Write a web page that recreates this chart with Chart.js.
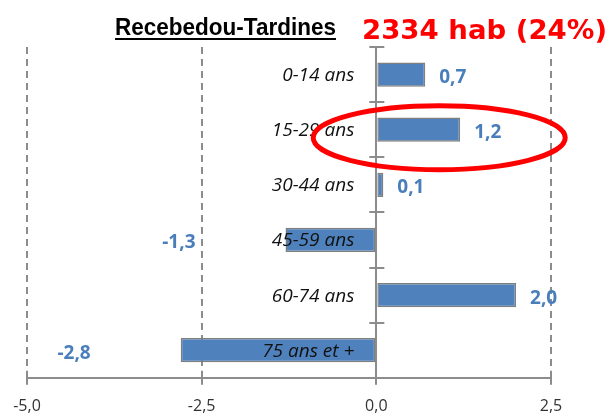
<!DOCTYPE html>
<html>
<head>
<meta charset="utf-8">
<script src="https://cdn.jsdelivr.net/npm/chart.js@4/dist/chart.umd.min.js"></script>
<style>
  html, body { margin: 0; padding: 0; background: #fff; }
  #wrap { width: 610px; height: 414px; position: relative; }
</style>
</head>
<body>
<div id="wrap"><canvas id="pyramid"></canvas></div>
<script>
// data
const ageGroups = ['0-14 ans', '15-29 ans', '30-44 ans', '45-59 ans', '60-74 ans', '75 ans et +'];
const growth = [0.7, 1.2, 0.1, -1.3, 2.0, -2.8];
const xTicks = [-5, -2.5, 0, 2.5];
const titleText = 'Recebedou-Tardines';
const subtitleText = '2334 hab (24%)';
const circledIndex = 1;

const axisGrey = '#8c8c8c';
const barBlue = '#4f81bd';
const labelBlue = '#4a7ebb';

const fmt = v => v.toFixed(1).replace('.', ',');

// tick marks crossing both axes, like the original
const crossTicks = {
    id: 'crossTicks',
    afterDraw(chart) {
        const ctx = chart.ctx;
        const x = chart.scales.x, y = chart.scales.y;
        const x0 = x.getPixelForValue(0);
        const bottom = chart.chartArea.bottom;
        ctx.save();
        ctx.strokeStyle = axisGrey;
        ctx.lineWidth = 2;
        ctx.beginPath();
        xTicks.forEach(v => {
            const px = Math.round(x.getPixelForValue(v));
            ctx.moveTo(px, bottom - 7);
            ctx.lineTo(px, bottom + 7);
        });
        const step = y.getPixelForValue(1) - y.getPixelForValue(0);
        for (let i = 0; i <= ageGroups.length; i++) {
            const py = Math.round(y.getPixelForValue(i) - step / 2);
            ctx.moveTo(x0 - 7, py);
            ctx.lineTo(x0 + 8, py);
        }
        ctx.stroke();
        ctx.restore();
    }
};

// category names left of the zero line (over the bars) and the value labels
const barLabels = {
    id: 'barLabels',
    afterDatasetsDraw(chart) {
        const ctx = chart.ctx;
        const x0 = chart.scales.x.getPixelForValue(0);
        const y = chart.scales.y;
        ctx.save();
        ctx.textBaseline = 'middle';
        ctx.font = 'italic 19px "Open Sans"';
        ctx.fillStyle = '#111';
        ctx.textAlign = 'right';
        ageGroups.forEach((name, i) => {
            ctx.fillText(name, x0 - 22, y.getPixelForValue(i) + 1);
        });

        const meta = chart.getDatasetMeta(0);
        ctx.font = 'bold 19px "Open Sans"';
        ctx.fillStyle = labelBlue;
        meta.data.forEach((bar, i) => {
            const v = growth[i];
            if (v >= 0) {
                ctx.textAlign = 'left';
                ctx.fillText(fmt(v), bar.x + 14, bar.y + 3);
            } else {
                ctx.textAlign = 'right';
                ctx.fillText(fmt(v), bar.x - 90, bar.y + 3);
            }
        });
        ctx.restore();
    }
};

// title, red headline and the hand-drawn ellipse
const decorations = {
    id: 'decorations',
    afterDraw(chart) {
        const ctx = chart.ctx;
        ctx.save();
        ctx.font = 'bold 24px "Liberation Sans"';
        ctx.fillStyle = '#000';
        ctx.textBaseline = 'alphabetic';
        ctx.textAlign = 'left';
        let w = ctx.measureText(titleText).width;
        ctx.save();
        ctx.translate(115, 35);
        ctx.scale(221 / w, 1);
        ctx.fillText(titleText, 0, 0);
        ctx.restore();
        ctx.fillRect(115, 38, 221, 2);

        ctx.font = 'bold 26px "DejaVu Sans"';
        ctx.fillStyle = '#ff0000';
        w = ctx.measureText(subtitleText).width;
        ctx.save();
        ctx.translate(362, 39);
        ctx.scale(245 / w, 1);
        ctx.fillText(subtitleText, 0, 0);
        ctx.restore();

        const cx = chart.scales.x.getPixelForValue(0.9);
        const cy = chart.scales.y.getPixelForValue(circledIndex) + 8;
        ctx.strokeStyle = '#ff0000';
        ctx.lineWidth = 5;
        ctx.beginPath();
        ctx.ellipse(cx, cy, 126, 32, 0, 0, Math.PI * 2);
        ctx.stroke();
        ctx.restore();
    }
};

new Chart(document.getElementById('pyramid'), {
    type: 'bar',
    data: {
        labels: ageGroups,
        datasets: [{
            data: growth,
            backgroundColor: barBlue,
            borderColor: '#7f7f7f',
            borderWidth: 1.5,
            borderSkipped: false,
            categoryPercentage: 1,
            barPercentage: 0.44
        }]
    },
    options: {
        indexAxis: 'y',
        responsive: true,
        maintainAspectRatio: false,
        animation: false,
        layout: { padding: { left: 27, right: 59, top: 47, bottom: -7 } },
        plugins: {
            legend: { display: false },
            tooltip: { enabled: false }
        },
        scales: {
            x: {
                min: -5,
                max: 2.5,
                afterBuildTicks: axis => { axis.ticks = xTicks.map(v => ({ value: v })); },
                ticks: {
                    callback: v => fmt(v),
                    font: { family: '"Open Sans"', size: 16 },
                    color: '#333',
                    padding: 5,
                    maxRotation: 0
                },
                grid: {
                    drawTicks: true,
                    tickLength: 14,
                    tickColor: 'rgba(0,0,0,0)',
                    lineWidth: 2,
                    color: c => (c.tick && c.tick.value === 0) ? 'rgba(0,0,0,0)' : axisGrey
                },
                border: { display: true, color: axisGrey, width: 2, dash: [7, 5] }
            },
            y: {
                type: 'category',
                position: { x: 0 },
                offset: true,
                grid: { display: true, drawOnChartArea: false, drawTicks: false },
                border: { display: true, color: axisGrey, width: 2 },
                ticks: { display: false }
            }
        }
    },
    plugins: [crossTicks, barLabels, decorations]
});
</script>
</body>
</html>
